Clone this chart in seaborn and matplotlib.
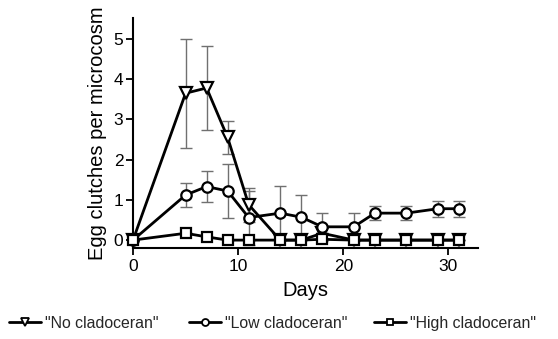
import numpy as np
import pandas as pd
import matplotlib
matplotlib.use("Agg")
import matplotlib.pyplot as plt
import seaborn as sns
from matplotlib.lines import Line2D

days = [0, 5, 7, 9, 11, 14, 16, 18, 21, 23, 26, 29, 31]
no_clad = [0, 3.65, 3.78, 2.55, 0.88, 0, 0, 0.17, 0, 0, 0, 0, 0]
no_err = [0, 1.35, 1.05, 0.4, 0.42, 0, 0, 0, 0, 0, 0, 0, 0]
low_clad = [0, 1.12, 1.33, 1.22, 0.56, 0.67, 0.57, 0.33, 0.33, 0.67, 0.67, 0.78, 0.78]
low_err = [0, 0.3, 0.38, 0.67, 0.67, 0.67, 0.55, 0.35, 0.35, 0.18, 0.18, 0.2, 0.2]
high_clad = [0, 0.17, 0.08, 0, 0, 0, 0, 0.02, 0, 0, 0, 0, 0]
high_err = [0, 0, 0, 0, 0, 0, 0, 0, 0, 0, 0, 0, 0]
groups = ['"No cladoceran"', '"Low cladoceran"', '"High cladoceran"']
markers = {groups[0]: "v", groups[1]: "o", groups[2]: "s"}

df = pd.DataFrame({
    "Days": days * 3,
    "value": no_clad + low_clad + high_clad,
    "err": no_err + low_err + high_err,
    "group": [groups[0]] * len(days) + [groups[1]] * len(days) + [groups[2]] * len(days),
})

sns.set_theme(style="ticks")
plt.rcParams["font.family"] = ["Liberation Sans", "DejaVu Sans"]

fig = plt.figure(figsize=(5.58, 3.39), dpi=100)
ax = fig.add_axes([0.2384, 0.268, 0.618, 0.679])

for g in groups:
    sub = df[df["group"] == g]
    ax.errorbar(sub["Days"], sub["value"], yerr=sub["err"], fmt="none",
                ecolor="#707070", elinewidth=1, capsize=4, capthick=1,
                zorder=1, clip_on=False)

sns.lineplot(data=df, x="Days", y="value", hue="group", style="group",
             markers=markers, dashes=False, palette=["black"] * 3,
             linewidth=2, markersize=7.5, markerfacecolor="white",
             markeredgecolor="black", markeredgewidth=1.6,
             legend=False, ax=ax, zorder=3, clip_on=False)
for ln in ax.lines:
    if ln.get_marker() == "v":
        ln.set_markersize(9)

ax.set_xlim(0, 32.8)
ax.set_ylim(-0.2, 5.52)
ax.set_xticks([0, 10, 20, 30])
ax.set_yticks([0, 1, 2, 3, 4, 5])
ax.tick_params(axis="both", labelsize=12.5, length=5, width=1.3, color="black",
               labelcolor="black", pad=2)
ax.tick_params(axis="x", pad=3)
for s in ["top", "right"]:
    ax.spines[s].set_visible(False)
for s in ["left", "bottom"]:
    ax.spines[s].set_linewidth(1.5)
    ax.spines[s].set_color("black")
ax.set_xlabel("Days", fontsize=14.5, color="black", labelpad=5)
ax.set_ylabel("Egg clutches per microcosm", fontsize=14.5, color="black", labelpad=5)

legend_x = [0.0161, 0.3387, 0.6703]
for g, lx in zip(groups, legend_x):
    h = Line2D([0], [0], color="black", linewidth=2, marker=markers[g],
               markersize=5.5 if markers[g] == "v" else 5, markerfacecolor="white",
               markeredgecolor="black", markeredgewidth=1.3)
    leg = fig.legend([h], [g], loc="center left", bbox_to_anchor=(lx, 0.047),
                     frameon=False, fontsize=11.4, handlelength=2.0,
                     handletextpad=0.25, borderpad=0, borderaxespad=0)

fig.savefig("out.png", dpi=100)
